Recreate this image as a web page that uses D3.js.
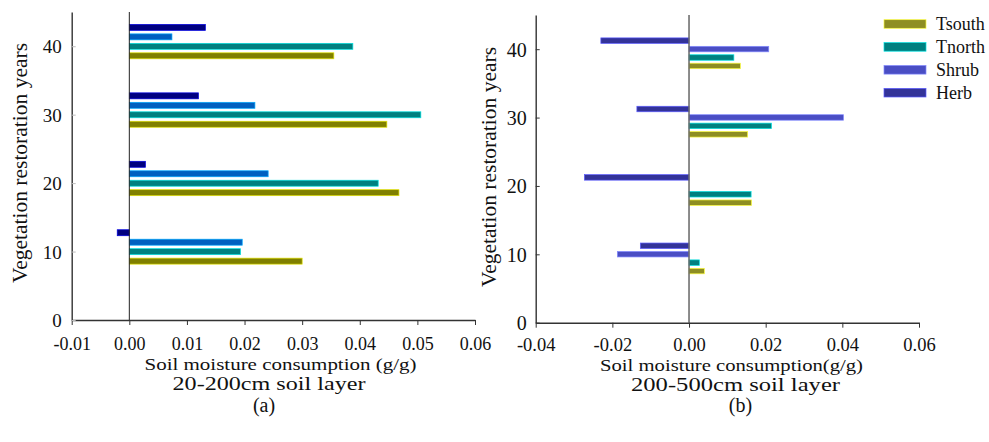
<!DOCTYPE html>
<html>
<head>
<meta charset="utf-8">
<script src="https://cdn.jsdelivr.net/npm/d3@7"></script>
<style>
  body { margin: 0; background: #fff; }
  svg { display: block; font-family: "Liberation Serif", "Times New Roman", serif; }
  .axis path, .axis line { stroke: #333; }
  .axis text { fill: #111; font-family: "Liberation Serif", "Times New Roman", serif; }
  .label { fill: #111; }
</style>
</head>
<body>
<script>
(function(){
    //categories and values
    var years = [10, 20, 30, 40];
    var series = ["Tsouth", "Tnorth", "Shrub", "Herb"];

    //(a) 20-200cm soil layer
    var tsouthA = [0.0300, 0.0468, 0.0447, 0.0355];
    var tnorthA = [0.0193, 0.0432, 0.0506, 0.0388];
    var shrubA  = [0.0196, 0.0241, 0.0218, 0.0074];
    var herbA   = [-0.0021, 0.0028, 0.0120, 0.0132];

    //(b) 200-500cm soil layer
    var tsouthB = [0.0040, 0.0163, 0.0153, 0.0134];
    var tnorthB = [0.0027, 0.0162, 0.0215, 0.0117];
    var shrubB  = [-0.0187, 0, 0.0403, 0.0208];
    var herbB   = [-0.0127, -0.0273, -0.0136, -0.0230];

    //tick labels
    var xTicksA = [-0.01, 0, 0.01, 0.02, 0.03, 0.04, 0.05, 0.06];
    var xTicksB = [-0.04, -0.02, 0, 0.02, 0.04, 0.06];
    var yTicks = [0, 10, 20, 30, 40];

    var colorsA = ["#808000", "#008080", "#0060c0", "#000080"];
    var colorsB = ["#8e8e22", "#008080", "#4a4ec4", "#333399"];

    var svg = d3.select("body").append("svg")
        .attr("width", 989)
        .attr("height", 442);

    //plain hyphen instead of the unicode minus
    var fmt = function(d){ return d3.format(".2f")(d).replace("\u2212", "-"); };

    function makeRows(vals){
        var rows = [];
        years.forEach(function(y, i){
            series.forEach(function(s, j){
                rows.push({year: y, series: s, value: vals[j][i]});
            });
        });
        return rows;
    }

    function drawPanel(opt){
        var x = d3.scaleLinear().domain(opt.xDomain).range(opt.xRange);
        var y = d3.scaleLinear().domain([0, 45]).range(opt.yRange);
        //offset of each series around its year (in years)
        var offset = d3.scalePoint().domain(series).range(opt.offsetRange);
        var color = d3.scaleOrdinal().domain(series).range(opt.colors);

        var g = svg.append("g");

        //bars
        g.selectAll(".bar")
            .data(makeRows(opt.values).filter(function(d){ return d.value !== 0; }))
            .enter()
            .append("rect")
            .attr("class", "bar")
            .attr("x", function(d){ return Math.min(x(0), x(d.value)); })
            .attr("width", function(d){ return Math.abs(x(d.value) - x(0)); })
            .attr("y", function(d){ return y(d.year + offset(d.series)) - opt.barH / 2; })
            .attr("height", opt.barH)
            .style("fill", function(d){ return color(d.series); })
            .style("stroke", function(d){ return d3.color(color(d.series)).brighter(1.6); })
            .style("stroke-width", 0.7);

        //zero line
        g.append("line")
            .attr("x1", x(0)).attr("x2", x(0))
            .attr("y1", opt.yRange[1]).attr("y2", opt.yRange[0])
            .style("stroke", opt.zeroColor)
            .style("stroke-width", opt.zeroWidth);

        //x axis
        var xAxis = g.append("g")
            .attr("class", "axis")
            .attr("transform", "translate(0," + opt.yRange[0] + ")")
            .call(d3.axisBottom(x).tickValues(opt.xTicks).tickFormat(fmt)
                .tickSize(5).tickSizeOuter(0));
        xAxis.selectAll("text")
            .attr("y", opt.xLabelY - opt.yRange[0])
            .attr("dy", null)
            .style("font-size", opt.tickFont + "px");
        xAxis.select(".domain").style("stroke-width", 1.4);

        //y axis
        var yAxis = g.append("g")
            .attr("class", "axis")
            .attr("transform", "translate(" + opt.xRange[0] + ",0)")
            .call(d3.axisLeft(y).tickValues(yTicks).tickFormat(d3.format("d"))
                .tickSizeInner(-4).tickSizeOuter(0).tickPadding(opt.yPad));
        yAxis.selectAll("text")
            .attr("dy", "0.35em")
            .style("font-size", opt.yTickFont + "px");
        yAxis.selectAll(".tick line").style("stroke", opt.yTickColor);
        yAxis.select(".domain").style("stroke-width", 1.4);

        //y axis title
        g.append("text")
            .attr("class", "label")
            .attr("transform", "translate(" + opt.yTitleX + "," + opt.yTitleY + ") rotate(-90)")
            .attr("text-anchor", "middle")
            .style("font-size", "21.5px")
            .text("Vegetation restoration years");

        //x axis title and panel caption (the source text is a little stretched)
        opt.captions.forEach(function(c){
            var t = g.append("text")
                .attr("class", "label")
                .attr("x", c.x)
                .attr("y", c.y)
                .attr("text-anchor", "middle")
                .style("font-size", c.size + "px")
                .text(c.text);
            if (c.len) {
                t.attr("textLength", c.len).attr("lengthAdjust", "spacingAndGlyphs");
            }
        });
    }

    drawPanel({
        xDomain: [-0.01, 0.06], xRange: [71.7, 475],
        yRange: [320, 12],
        offsetRange: [-1.4, 2.75],
        colors: colorsA,
        values: [tsouthA, tnorthA, shrubA, herbA],
        barH: 6,
        zeroColor: "#222", zeroWidth: 1,
        xTicks: xTicksA, xLabelY: 349.5, tickFont: 18,
        yPad: 10, yTickFont: 19, yTickColor: "#bbb",
        yTitleX: 27, yTitleY: 163,
        captions: [
            {x: 280.5, y: 369.5, size: 17.5, len: 272, text: "Soil moisture consumption (g/g)"},
            {x: 269, y: 390, size: 19.5, len: 193, text: "20-200cm soil layer"},
            {x: 264, y: 411.5, size: 20, text: "(a)"}
        ]
    });

    drawPanel({
        xDomain: [-0.04, 0.06], xRange: [535.7, 919],
        yRange: [322.7, 15],
        offsetRange: [-2.45, 1.25],
        colors: colorsB,
        values: [tsouthB, tnorthB, shrubB, herbB],
        barH: 5.5,
        zeroColor: "#666", zeroWidth: 1.5,
        xTicks: xTicksB, xLabelY: 351, tickFont: 18.5,
        yPad: 9, yTickFont: 20, yTickColor: "#333",
        yTitleX: 496, yTitleY: 167,
        captions: [
            {x: 731.5, y: 370.5, size: 17.5, len: 263, text: "Soil moisture consumption(g/g)"},
            {x: 735.5, y: 391, size: 19.5, len: 209, text: "200-500cm soil layer"},
            {x: 740.5, y: 412, size: 20, text: "(b)"}
        ]
    });

    //legend (top right)
    var legendY = d3.scalePoint().domain(series).range([24, 92.7]);
    var legend = svg.append("g").attr("class", "legend");
    legend.selectAll("rect")
        .data(series)
        .enter()
        .append("rect")
        .attr("x", 884)
        .attr("y", function(d){ return legendY(d) - 4.3; })
        .attr("width", 42)
        .attr("height", 8.6)
        .style("fill", function(d, i){ return colorsB[i]; })
        .style("stroke", function(d, i){ return d3.color(colorsB[i]).brighter(1.6); })
        .style("stroke-width", 0.7);
    legend.selectAll("text")
        .data(series)
        .enter()
        .append("text")
        .attr("x", 936)
        .attr("y", function(d){ return legendY(d) + 6; })
        .style("font-size", "18px")
        .style("fill", "#111")
        .text(function(d){ return d; });
})();
</script>
</body>
</html>
